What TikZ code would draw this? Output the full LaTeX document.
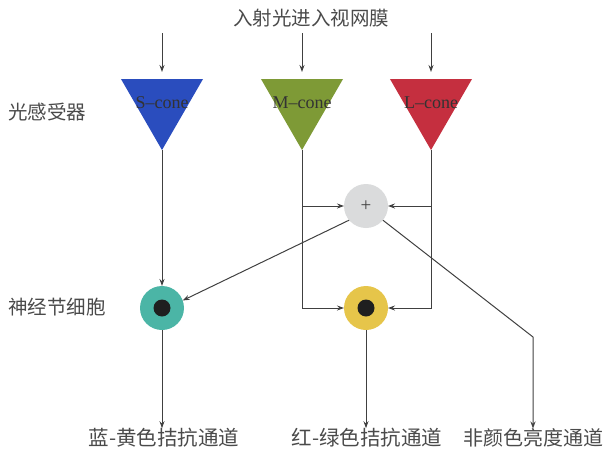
\documentclass[tikz,border=0pt]{standalone}
\usepackage{fontspec}
\setmainfont{Liberation Serif}
\newfontfamily\cjk{Noto Sans CJK SC}
\usetikzlibrary{shapes.geometric,arrows.meta,calc}
\definecolor{coneS}{HTML}{2A4DBE}
\definecolor{coneM}{HTML}{7E9A36}
\definecolor{coneL}{HTML}{C52F3F}
\definecolor{cellT}{HTML}{4BB5A6}
\definecolor{cellY}{HTML}{E6C54A}
\definecolor{cellP}{HTML}{DADBDC}
\definecolor{linec}{HTML}{404040}
\definecolor{txt}{HTML}{4A4A4A}
\begin{document}
\begin{tikzpicture}[x=1pt,y=-1pt,
  cone/.style={regular polygon, regular polygon sides=3, shape border rotate=180, minimum size=94.7pt, inner sep=0pt, outer sep=0pt},
  conelabel/.style={font=\fontsize{18}{18}\selectfont, text=black!80, inner sep=0pt},
  cell/.style={circle, minimum size=44pt, inner sep=0pt, outer sep=0pt},
  cjklabel/.style={font=\cjk\fontsize{19.5}{19.5}\selectfont, text=txt, inner sep=0pt},
  arr/.style={draw=linec, line width=1pt, -{Stealth[length=7pt,width=5pt]}},
  ln/.style={draw=linec, line width=1pt}]
\useasboundingbox (0,0) rectangle (603,453);

% texts
\node[cjklabel] (title) at (311,18) {入射光进入视网膜};
\node[cjklabel, anchor=west] (photo) at (8,112) {光感受器};
\node[cjklabel, anchor=west] (gang) at (8,307) {神经节细胞};

% cones
\node[cone, fill=coneS] (S) at (162,102.7) {};
\node[cone, fill=coneM] (M) at (302,102.7) {};
\node[cone, fill=coneL] (L) at (431,102.7) {};
\node[conelabel] (Slab) at (162,103) {S--cone};
\node[conelabel] (Mlab) at (302,103) {M--cone};
\node[conelabel] (Llab) at (431,103) {L--cone};

% cells
\node[cell, fill=cellP] (P) at (366,206) {};
\node[text=linec, font=\fontsize{19}{19}\selectfont, inner sep=0pt] (plus) at (366,206) {+};
\node[cell, fill=cellT] (T) at (162,308) {};
\node[cell, fill=cellY] (Y) at (366,308) {};
\fill[black!88] (T) circle (8.5pt);
\fill[black!88] (Y) circle (8.5pt);

% bottom labels
\node[cjklabel, font=\cjk\fontsize{20.5}{20.5}\selectfont] (b1) at (164,438) {蓝-黄色拮抗通道};
\node[cjklabel, font=\cjk\fontsize{20.5}{20.5}\selectfont] (b2) at (367,438) {红-绿色拮抗通道};
\node[cjklabel, font=\cjk\fontsize{20}{20}\selectfont] (b3) at (533,438) {非颜色亮度通道};

% input arrows
\coordinate (inS) at (162,33);
\coordinate (inM) at (302,33);
\coordinate (inL) at (431,33);
\draw[arr] (inS) -- ($(S.center)+(0,-30.7)$);
\draw[arr] (inM) -- ($(M.center)+(0,-30.7)$);
\draw[arr] (inL) -- ($(L.center)+(0,-30.7)$);

% connections
\draw[arr] (S.corner 1) -- (S.corner 1 |- T.north);
\draw[arr] (M.corner 1) |- (Y.west);
\draw[arr] (L.corner 1) |- (Y.east);
\draw[arr] (M.corner 1 |- P.west) -- (P.west);
\draw[arr] (L.corner 1 |- P.east) -- (P.east);
\draw[arr] (P.220) -- (T.20);
\coordinate (bend) at (533,337);
\draw[arr] (P.-40) -- (bend) -- (bend |- b3.north);
\draw[arr] (T.south) -- (T.south |- b1.north);
\draw[arr] (Y.south) -- (Y.south |- b2.north);
\end{tikzpicture}
\end{document}
